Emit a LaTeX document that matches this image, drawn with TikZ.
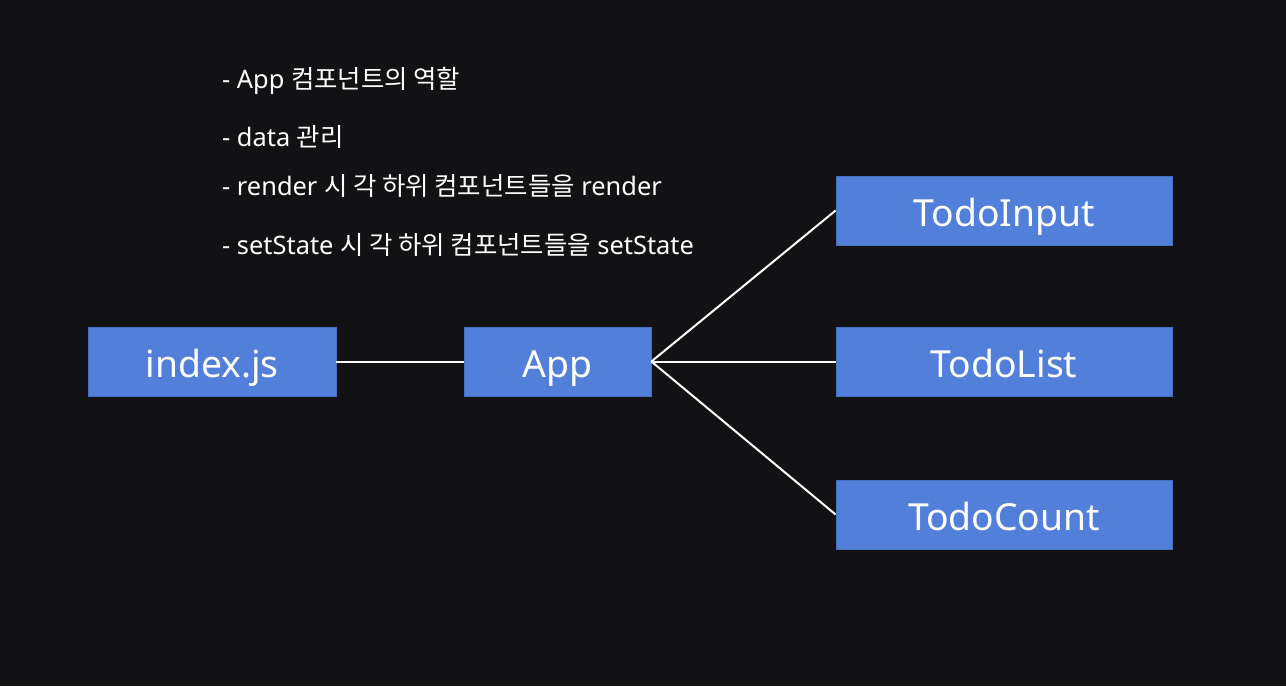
\documentclass[tikz,border=0pt]{standalone}
\usepackage{fontspec}
\setmainfont{Noto Sans}
\newfontfamily\kr{Noto Sans CJK KR}
\definecolor{bg}{HTML}{121214}
\definecolor{boxblue}{HTML}{527FD9}
\definecolor{boxedge}{HTML}{4A6FC0}
\begin{document}
\begin{tikzpicture}[x=1pt,y=-1pt,
  compbox/.style={fill=boxblue,draw=boxedge,line width=0.8pt,minimum height=69pt,inner sep=0pt,text height=31pt,text depth=0pt,text=white,font=\fontsize{37.3}{44}\selectfont},
  note/.style={anchor=base west,inner sep=0pt,text=white,font=\fontsize{25.4}{30}\selectfont},
  link/.style={draw=white,line width=2pt}]
\fill[bg] (0,0) rectangle (1286,686);
\useasboundingbox (0,0) rectangle (1286,686);
\node[note] (n1) at (222,88) {- App {\kr 컴포넌트의 역할}};
\node[note] (n2) at (222,146) {- data {\kr 관리}};
\node[note] (n3) at (222,195) {- render {\kr 시 각 하위 컴포넌트들을} render};
\node[note] (n4) at (222,254) {- setState {\kr 시 각 하위 컴포넌트들을} setState};
\node[compbox,minimum width=248pt] (idx) at (212,361.5) {index.js};
\node[compbox,minimum width=187pt] (app) at (557.5,361.5) {App};
\node[compbox,minimum width=336pt] (tin) at (1004,210.5) {TodoInput};
\node[compbox,minimum width=336pt] (tls) at (1004,361.5) {TodoList};
\node[compbox,minimum width=336pt] (tct) at (1004,514.5) {TodoCount};
\draw[link] (idx.east) -- (app.west);
\draw[link] (app.east) -- (tin.west);
\draw[link] (app.east) -- (tls.west);
\draw[link] (app.east) -- (tct.west);
\end{tikzpicture}
\end{document}
